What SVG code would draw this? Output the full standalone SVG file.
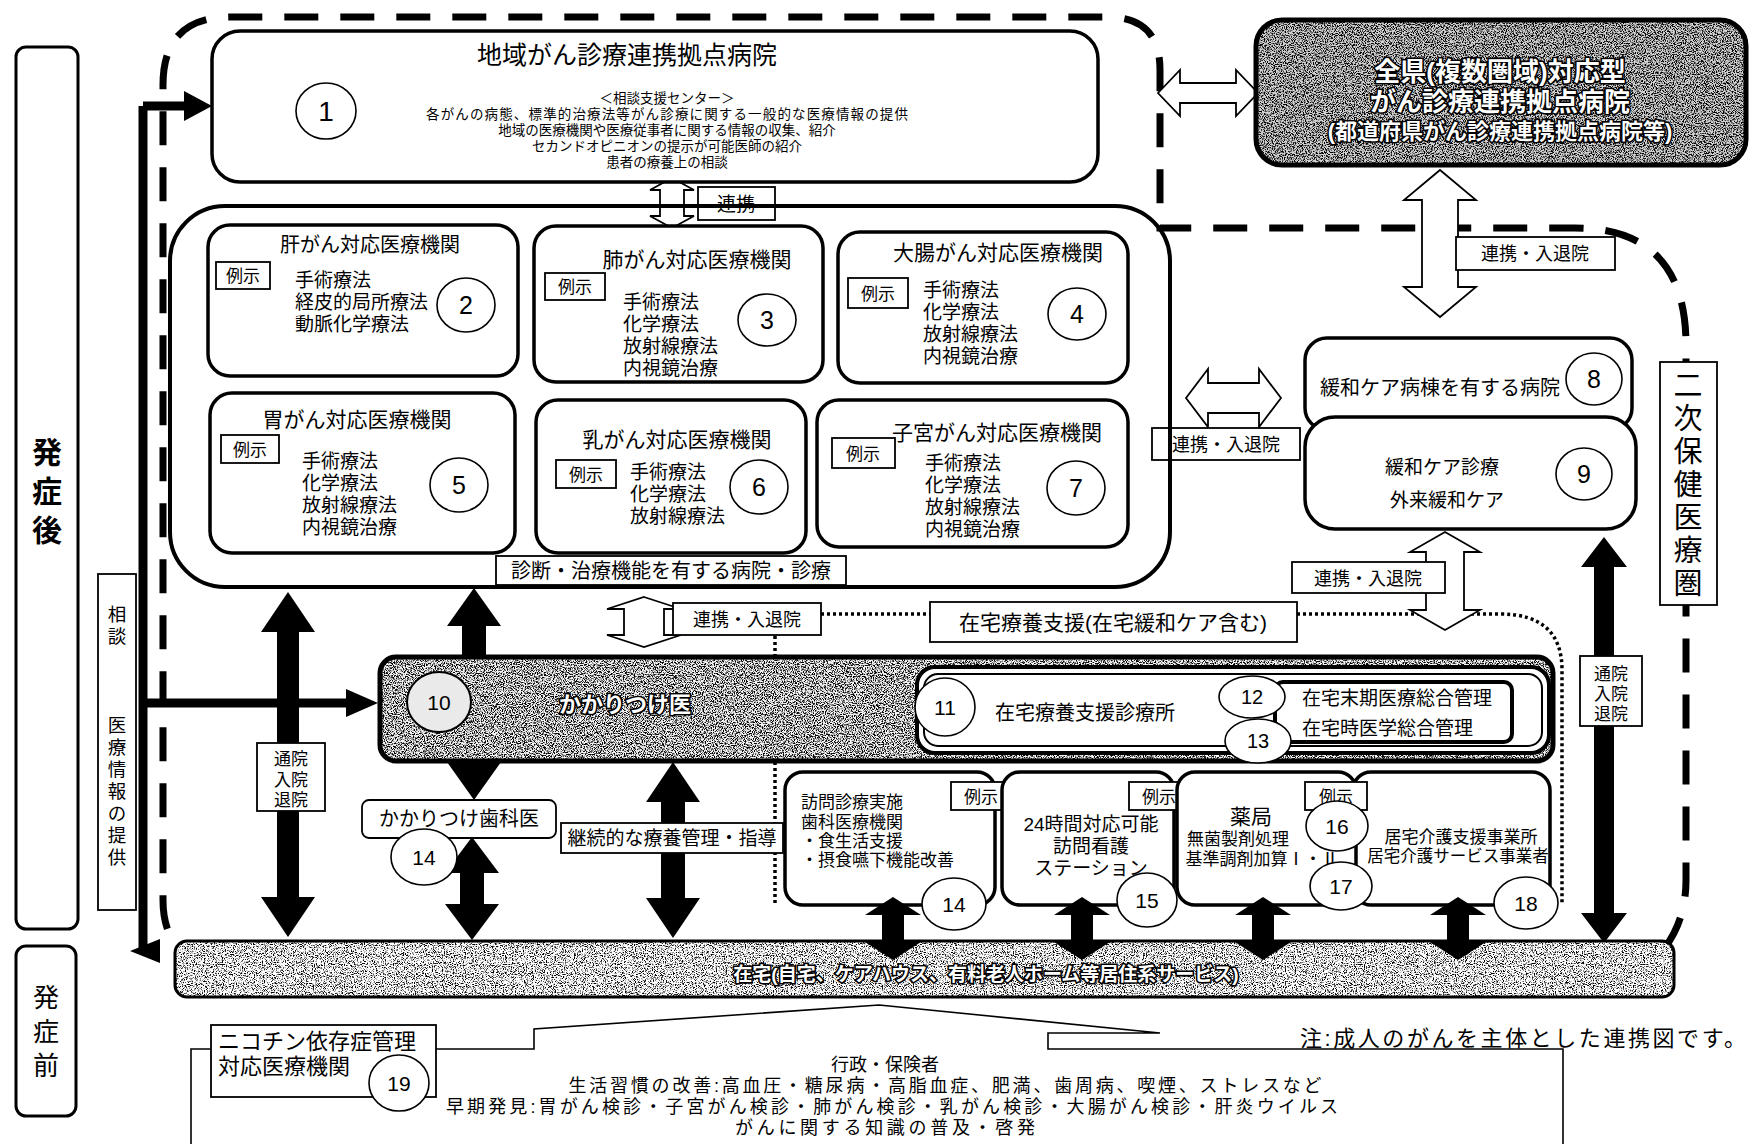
<svg xmlns="http://www.w3.org/2000/svg" width="1750" height="1144" viewBox="0 0 1750 1144">
<style>
.t{font-family:"Liberation Sans","Noto Sans CJK JP","Noto Sans CJK SC",sans-serif;fill:#000}
.c{text-anchor:middle}
.w{fill:#fff;stroke:#000;stroke-width:3.2;paint-order:stroke;font-weight:bold}
.box{fill:#fff;stroke:#000;stroke-width:3.5}
.thin{fill:#fff;stroke:#000;stroke-width:1.8}
.circ{fill:#fff;stroke:#000;stroke-width:1.6}
.hollow{fill:#fff;stroke:#000;stroke-width:1.8;stroke-linejoin:miter}
.solid{fill:#000;stroke:none}
.dash{fill:none;stroke:#000;stroke-width:7;stroke-dasharray:34 22}
.dot{fill:none;stroke:#000;stroke-width:3.5;stroke-dasharray:3 3}
.f13{font-size:13.5px}.f17{font-size:17px}.f18{font-size:18px}.f19{font-size:19px}.f20{font-size:20px}.f21{font-size:21px}.f22{font-size:22px}.f24{font-size:24px}.f25{font-size:25px}
</style>
<defs>
<filter id="grain" x="0" y="0" width="100%" height="100%" color-interpolation-filters="sRGB">
<feTurbulence type="fractalNoise" baseFrequency="0.9" numOctaves="2" seed="7" result="t"/>
<feColorMatrix in="t" type="matrix" values="0 0 0 0 0 0 0 0 0 0 0 0 0 0 0 5 0 0 0 -2.2" result="k"/>
<feComposite in="k" in2="SourceAlpha" operator="in" result="kk"/>
<feMerge><feMergeNode in="SourceGraphic"/><feMergeNode in="kk"/></feMerge>
</filter>
<filter id="grainLight" x="0" y="0" width="100%" height="100%" color-interpolation-filters="sRGB">
<feTurbulence type="fractalNoise" baseFrequency="0.9" numOctaves="2" seed="11" result="t"/>
<feColorMatrix in="t" type="matrix" values="0 0 0 0 0 0 0 0 0 0 0 0 0 0 0 5 0 0 0 -2.45" result="k"/>
<feComposite in="k" in2="SourceAlpha" operator="in" result="kk"/>
<feMerge><feMergeNode in="SourceGraphic"/><feMergeNode in="kk"/></feMerge>
</filter>
</defs>
<rect width="1750" height="1144" fill="#fff"/>

<!-- phase labels -->
<g id="phase-after">
<rect x="16" y="47" width="62" height="882" rx="10" fill="#fff" stroke="#000" stroke-width="3"/>
<text class="t c" font-size="30" font-weight="bold" x="47" y="463">発</text>
<text class="t c" font-size="30" font-weight="bold" x="47" y="502">症</text>
<text class="t c" font-size="30" font-weight="bold" x="47" y="541">後</text>
</g>
<g id="phase-before">
<rect x="16" y="946" width="60" height="170" rx="10" fill="#fff" stroke="#000" stroke-width="3"/>
<text class="t c" font-size="26" x="46" y="1007">発</text>
<text class="t c" font-size="26" x="46" y="1041">症</text>
<text class="t c" font-size="26" x="46" y="1075">前</text>
</g>
<g id="consult-label">
<rect x="98" y="574" width="38" height="336" class="thin" stroke-width="2.5"/>
<g class="t c" font-size="18.5">
<text x="117" y="621">相</text><text x="117" y="643">談</text>
<text x="117" y="732">医</text><text x="117" y="754">療</text><text x="117" y="776">情</text><text x="117" y="798">報</text><text x="117" y="820">の</text><text x="117" y="842">提</text><text x="117" y="864">供</text>
</g>
</g>

<!-- connectors behind nodes -->
<g id="connectors">
<path class="dash" d="M205 968 Q163 950 163 900 V85 Q163 17 230 17 H1108 Q1160 17 1160 70 V228 H1575 Q1686 228 1686 345 V880 Q1686 935 1645 968"/>
<path class="dot" d="M821 614 H930 M1297 614 H1500 Q1562 614 1562 670 V905 M775 636 V905"/>
<line x1="143" y1="106" x2="143" y2="951" stroke="#000" stroke-width="9"/>
<line x1="143" y1="106" x2="190" y2="106" stroke="#000" stroke-width="9"/>
<polygon class="solid" points="212,106 184,91 184,121"/>
<line x1="143" y1="703" x2="350" y2="703" stroke="#000" stroke-width="9"/>
<polygon class="solid" points="378,703 346,689 346,717"/>
<polygon class="solid" points="130,951 160,939 160,963"/>
<polygon class="solid" points="288,592 315,632 299,632 299,897 315,897 288,937 261,897 277,897 277,632 261,632"/>
<polygon class="solid" points="474,588 501,626 486,626 486,762 501,762 474,800 447,762 462,762 462,626 447,626"/>
<polygon class="solid" points="472,837 499,873 484,873 484,904 499,904 472,940 445,904 460,904 460,873 445,873"/>
<polygon class="solid" points="673,762 700,802 685,802 685,898 700,898 673,938 646,898 661,898 661,802 646,802"/>
<polygon class="solid" points="1604,537 1627,567 1614,567 1614,913 1627,913 1604,943 1581,913 1594,913 1594,567 1581,567"/>
<polygon class="hollow" points="1158,93 1180,70 1180,83 1236,83 1236,70 1258,93 1236,116 1236,103 1180,103 1180,116"/>
<polygon class="hollow" points="1440,170 1476,200 1458,200 1458,287 1476,287 1440,317 1404,287 1422,287 1422,200 1404,200"/>
<polygon class="hollow" points="672,178 694,190 684,190 684,216 694,216 672,228 650,216 660,216 660,190 650,190"/>
<polygon class="hollow" points="1186,398 1208,369 1208,383 1259,383 1259,369 1281,398 1259,427 1259,413 1208,413 1208,427"/>
<polygon class="hollow" points="1445,532 1480,552 1464,552 1464,610 1480,610 1445,630 1410,610 1426,610 1426,552 1410,552"/>
<polygon class="hollow" points="644,597 681,609 664,609 664,635 681,635 644,647 607,635 624,635 624,609 607,609"/>
</g>

<!-- connector labels -->
<g id="connector-labels">
<rect x="698" y="187" width="77" height="33" class="thin"/><text class="t c f19" x="736" y="211">連携</text>
<rect x="1456" y="237" width="159" height="33" class="thin"/><text class="t c f18" x="1535" y="260">連携・入退院</text>
<rect x="1152" y="428" width="148" height="32" class="thin"/><text class="t c f18" x="1226" y="451">連携・入退院</text>
<rect x="1292" y="562" width="153" height="31" class="thin"/><text class="t c f18" x="1368" y="585">連携・入退院</text>
<rect x="673" y="603" width="148" height="32" class="thin"/><text class="t c f18" x="747" y="626">連携・入退院</text>
<rect x="930" y="602" width="367" height="40" class="thin"/><text class="t c f21" x="1113" y="630">在宅療養支援(在宅緩和ケア含む)</text>
<rect x="257" y="743" width="68" height="68" class="thin"/>
<text class="t c f17" x="291" y="765">通院</text><text class="t c f17" x="291" y="786">入院</text><text class="t c f17" x="291" y="806">退院</text>
<rect x="1580" y="656" width="62" height="70" class="thin"/>
<text class="t c f17" x="1611" y="680">通院</text><text class="t c f17" x="1611" y="700">入院</text><text class="t c f17" x="1611" y="720">退院</text>
<rect x="561" y="823" width="222" height="30" class="thin"/><text class="t c f19" x="672" y="845">継続的な療養管理・指導</text>
</g>

<!-- node 1 -->
<g id="node-1">
<rect x="212" y="31" width="886" height="151" rx="28" class="box" stroke-width="4"/>
<text class="t c f25" x="627" y="64">地域がん診療連携拠点病院</text>
<ellipse cx="326" cy="111" rx="30" ry="28" class="circ"/><text class="t c" font-size="28" x="326" y="121">1</text>
<text class="t c f13" x="667" y="103">＜相談支援センター＞</text>
<text class="t c f13" x="667" y="119" textLength="482">各がんの病態、標準的治療法等がん診療に関する一般的な医療情報の提供</text>
<text class="t c f13" x="667" y="135">地域の医療機関や医療従事者に関する情報の収集、紹介</text>
<text class="t c f13" x="667" y="151">セカンドオピニオンの提示が可能医師の紹介</text>
<text class="t c f13" x="667" y="167">患者の療養上の相談</text>
</g>

<g id="node-prefecture">
<rect x="1256" y="20" width="490" height="145" rx="26" fill="#d2d2d2" filter="url(#grain)"/>
<rect x="1256" y="20" width="490" height="145" rx="26" fill="none" stroke="#000" stroke-width="5"/>
<text class="t c w" font-size="26" x="1500" y="81">全県(複数圏域)対応型</text>
<text class="t c w" font-size="26" x="1500" y="111">がん診療連携拠点病院</text>
<text class="t c w" font-size="22" x="1500" y="139">(都道府県がん診療連携拠点病院等)</text>
</g>

<g id="container-diagnosis">
<rect x="170" y="206" width="1000" height="381" rx="55" fill="none" stroke="#000" stroke-width="4"/>
<rect x="496" y="556" width="350" height="29" class="thin"/>
<text class="t c f20" x="671" y="578">診断・治療機能を有する病院・診療</text>
</g>

<g id="node-2">
<rect x="208" y="225" width="310" height="151" rx="22" class="box"/>
<text class="t c f20" x="370" y="252">肝がん対応医療機関</text>
<rect x="216" y="262" width="54" height="27" class="thin" stroke-width="1.5"/><text class="t c f17" x="243" y="282">例示</text>
<text class="t f19" x="295" y="287">手術療法</text><text class="t f19" x="295" y="309">経皮的局所療法</text><text class="t f19" x="295" y="331">動脈化学療法</text>
<ellipse cx="466" cy="305" rx="29" ry="27" class="circ"/><text class="t c f25" x="466" y="314">2</text>
</g>
<g id="node-3">
<rect x="534" y="226" width="289" height="156" rx="22" class="box"/>
<text class="t c f21" x="697" y="267">肺がん対応医療機関</text>
<rect x="545" y="273" width="60" height="27" class="thin" stroke-width="1.5"/><text class="t c f17" x="575" y="293">例示</text>
<text class="t f19" x="623" y="309">手術療法</text><text class="t f19" x="623" y="331">化学療法</text><text class="t f19" x="623" y="353">放射線療法</text><text class="t f19" x="623" y="375">内視鏡治療</text>
<ellipse cx="767" cy="320" rx="29" ry="26" class="circ"/><text class="t c f25" x="767" y="329">3</text>
</g>
<g id="node-4">
<rect x="838" y="232" width="290" height="151" rx="22" class="box"/>
<text class="t c f21" x="998" y="260">大腸がん対応医療機関</text>
<rect x="848" y="278" width="60" height="30" class="thin" stroke-width="1.5"/><text class="t c f17" x="878" y="300">例示</text>
<text class="t f19" x="923" y="297">手術療法</text><text class="t f19" x="923" y="319">化学療法</text><text class="t f19" x="923" y="341">放射線療法</text><text class="t f19" x="923" y="363">内視鏡治療</text>
<ellipse cx="1077" cy="314" rx="29" ry="26" class="circ"/><text class="t c f25" x="1077" y="323">4</text>
</g>
<g id="node-5">
<rect x="210" y="393" width="305" height="160" rx="22" class="box"/>
<text class="t c f21" x="357" y="427">胃がん対応医療機関</text>
<rect x="221" y="435" width="58" height="28" class="thin" stroke-width="1.5"/><text class="t c f17" x="250" y="456">例示</text>
<text class="t f19" x="302" y="468">手術療法</text><text class="t f19" x="302" y="490">化学療法</text><text class="t f19" x="302" y="512">放射線療法</text><text class="t f19" x="302" y="534">内視鏡治療</text>
<ellipse cx="459" cy="485" rx="29" ry="27" class="circ"/><text class="t c f25" x="459" y="494">5</text>
</g>
<g id="node-6">
<rect x="536" y="400" width="270" height="153" rx="22" class="box"/>
<text class="t c f21" x="677" y="447">乳がん対応医療機関</text>
<rect x="556" y="460" width="60" height="28" class="thin" stroke-width="1.5"/><text class="t c f17" x="586" y="481">例示</text>
<text class="t f19" x="630" y="479">手術療法</text><text class="t f19" x="630" y="501">化学療法</text><text class="t f19" x="630" y="523">放射線療法</text>
<ellipse cx="759" cy="487" rx="29" ry="27" class="circ"/><text class="t c f25" x="759" y="496">6</text>
</g>
<g id="node-7">
<rect x="817" y="400" width="311" height="147" rx="22" class="box"/>
<text class="t c f21" x="997" y="440">子宮がん対応医療機関</text>
<rect x="832" y="438" width="63" height="30" class="thin" stroke-width="1.5"/><text class="t c f17" x="863" y="460">例示</text>
<text class="t f19" x="925" y="470">手術療法</text><text class="t f19" x="925" y="492">化学療法</text><text class="t f19" x="925" y="514">放射線療法</text><text class="t f19" x="925" y="536">内視鏡治療</text>
<ellipse cx="1076" cy="488" rx="29" ry="27" class="circ"/><text class="t c f25" x="1076" y="497">7</text>
</g>

<g id="node-8">
<rect x="1305" y="338" width="327" height="92" rx="22" class="box"/>
<text class="t c f20" x="1440" y="395">緩和ケア病棟を有する病院</text>
<ellipse cx="1594" cy="379" rx="28" ry="26" class="circ"/><text class="t c f25" x="1594" y="388">8</text>
</g>
<g id="node-9">
<rect x="1305" y="417" width="331" height="112" rx="30" class="box" stroke-width="4"/>
<text class="t c f19" x="1442" y="474">緩和ケア診療</text>
<text class="t c f19" x="1447" y="507">外来緩和ケア</text>
<ellipse cx="1584" cy="474" rx="28" ry="26" class="circ"/><text class="t c f25" x="1584" y="483">9</text>
</g>
<g id="label-region">
<rect x="1660" y="362" width="57" height="243" class="thin" stroke-width="2"/>
<g class="t c" font-size="29">
<text x="1688" y="396">二</text><text x="1688" y="429">次</text><text x="1688" y="462">保</text><text x="1688" y="495">健</text><text x="1688" y="528">医</text><text x="1688" y="561">療</text><text x="1688" y="594">圏</text>
</g>
</g>

<g id="node-10">
<rect x="380" y="657" width="1173" height="104" rx="16" fill="#f4f4f4" filter="url(#grain)"/>
<rect x="380" y="657" width="1173" height="104" rx="16" fill="none" stroke="#000" stroke-width="5"/>
<ellipse cx="439" cy="702" rx="32" ry="30" fill="#eaeaea" stroke="#000" stroke-width="2"/>
<text class="t c f21" x="439" y="710">10</text>
<text class="t c w f22" x="625" y="712">かかりつけ医</text>
</g>
<g id="node-11">
<rect x="917" y="667" width="632" height="86" rx="18" fill="#fff" stroke="#000" stroke-width="4"/>
<rect x="924" y="674" width="618" height="72" rx="14" fill="none" stroke="#000" stroke-width="2"/>
<ellipse cx="945" cy="707" rx="30" ry="29" class="circ"/><text class="t c f21" x="945" y="715">11</text>
<text class="t c f20" x="1085" y="720">在宅療養支援診療所</text>
</g>
<g id="node-12-13">
<rect x="1275" y="682" width="237" height="60" rx="8" fill="#fff" stroke="#000" stroke-width="4"/>
<text class="t f19" x="1302" y="705">在宅末期医療総合管理</text>
<text class="t f19" x="1302" y="735">在宅時医学総合管理</text>
<ellipse cx="1252" cy="697" rx="33" ry="21" class="circ"/><text class="t c f20" x="1252" y="704">12</text>
<ellipse cx="1258" cy="741" rx="33" ry="22" class="circ"/><text class="t c f20" x="1258" y="748">13</text>
</g>
<g id="node-14-dental">
<rect x="362" y="800" width="194" height="38" rx="7" class="thin"/>
<text class="t c f20" x="459" y="826">かかりつけ歯科医</text>
<ellipse cx="424" cy="857" rx="33" ry="28" class="circ"/><text class="t c f21" x="424" y="865">14</text>
</g>

<g id="node-14-visit">
<rect x="785" y="772" width="210" height="133" rx="18" class="box"/>
<rect x="951" y="782" width="60" height="28" class="thin" stroke-width="1.5"/><text class="t c f17" x="981" y="803">例示</text>
<text class="t f17" x="801" y="808">訪問診療実施</text><text class="t f17" x="801" y="828">歯科医療機関</text><text class="t f17" x="801" y="847">・食生活支援</text><text class="t f17" x="801" y="866">・摂食嚥下機能改善</text>
<ellipse cx="954" cy="904" rx="32" ry="26" class="circ"/><text class="t c f21" x="954" y="912">14</text>
</g>
<g id="node-15">
<rect x="1002" y="772" width="172" height="133" rx="18" class="box"/>
<rect x="1129" y="782" width="61" height="28" class="thin" stroke-width="1.5"/><text class="t c f17" x="1159" y="803">例示</text>
<text class="t c f19" x="1091" y="831">24時間対応可能</text><text class="t c f19" x="1091" y="853">訪問看護</text><text class="t c f19" x="1091" y="875">ステーション</text>
<ellipse cx="1147" cy="900" rx="30" ry="27" class="circ"/><text class="t c f21" x="1147" y="908">15</text>
</g>
<g id="node-18">
<rect x="1353" y="772" width="197" height="133" rx="18" class="box"/>
<text class="t c f17" x="1461" y="843">居宅介護支援事業所</text>
<text class="t c" font-size="16.5" x="1458" y="862">居宅介護サービス事業者</text>
<ellipse cx="1526" cy="903" rx="32" ry="26" class="circ"/><text class="t c f21" x="1526" y="911">18</text>
</g>
<g id="node-16-17">
<rect x="1177" y="772" width="179" height="133" rx="18" class="box"/>
<rect x="1305" y="782" width="62" height="28" class="thin" stroke-width="1.5"/><text class="t c f17" x="1336" y="803">例示</text>
<text class="t c f21" x="1251" y="824">薬局</text>
<text class="t c f17" x="1238" y="845">無菌製剤処理</text>
<text class="t c f17" x="1262" y="865">基準調剤加算Ⅰ・Ⅱ</text>
<ellipse cx="1337" cy="826" rx="31" ry="25" class="circ"/><text class="t c f21" x="1337" y="834">16</text>
<ellipse cx="1341" cy="886" rx="31" ry="24" class="circ"/><text class="t c f21" x="1341" y="894">17</text>
</g>

<g id="node-home">
<rect x="175" y="941" width="1499" height="56" rx="12" fill="#ffffff" filter="url(#grainLight)"/>
<rect x="175" y="941" width="1499" height="56" rx="12" fill="none" stroke="#000" stroke-width="3"/>
<text class="t c w f19" x="986" y="981">在宅(自宅、ケアハウス、有料老人ホーム等居住系サービス)</text>
</g>

<g id="connectors-front">
<polygon class="solid" points="893,897 921,915 904,915 904,942 921,942 893,960 865,942 882,942 882,915 865,915"/>
<polygon class="solid" points="1082,897 1110,915 1093,915 1093,942 1110,942 1082,960 1054,942 1071,942 1071,915 1054,915"/>
<polygon class="solid" points="1263,897 1291,915 1274,915 1274,942 1291,942 1263,960 1235,942 1252,942 1252,915 1235,915"/>
<polygon class="solid" points="1458,897 1486,915 1469,915 1469,942 1486,942 1458,960 1430,942 1447,942 1447,915 1430,915"/>
</g>

<g id="node-prevention">
<path d="M191 1150 V1049 H534 V1029 L879 1005 L1160 1033 H1048 V1049 H1563 V1150" fill="#fff" stroke="#000" stroke-width="1.6"/>
<text class="t c f18" x="885" y="1071">行政・保険者</text>
<text class="t c f18" x="945" y="1092" textLength="753">生活習慣の改善:高血圧・糖尿病・高脂血症、肥満、歯周病、喫煙、ストレスなど</text>
<text class="t c f18" x="892" y="1113" textLength="892">早期発見:胃がん検診・子宮がん検診・肺がん検診・乳がん検診・大腸がん検診・肝炎ウイルス</text>
<text class="t c f18" x="885" y="1134" textLength="300">がんに関する知識の普及・啓発</text>
</g>
<g id="node-19">
<rect x="211" y="1025" width="225" height="72" class="thin"/>
<text class="t f22" x="218" y="1049">ニコチン依存症管理</text>
<text class="t f22" x="218" y="1074">対応医療機関</text>
<ellipse cx="399" cy="1083" rx="30" ry="28" class="circ"/><text class="t c f21" x="399" y="1091">19</text>
</g>
<g id="note">
<text class="t f22" x="1300" y="1046" textLength="446">注:成人のがんを主体とした連携図です。</text>
</g>
</svg>
